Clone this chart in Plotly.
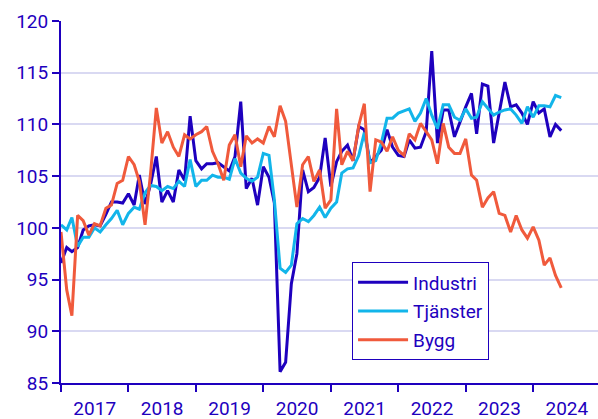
import plotly.graph_objects as go
import pandas as pd

months = pd.date_range("2017-01-01", periods=90, freq="MS")

industri = [96.6, 98.1, 97.7, 98.1, 99.8, 100.2, 100.3, 100.2, 101.3, 102.5, 102.5, 102.4,
            103.3, 102.2, 105.1, 102.3, 104.2, 106.9, 102.5, 103.6, 102.5, 105.6, 104.6, 110.8,
            106.5, 105.7, 106.2, 106.2, 106.3, 105.9, 105.5, 106.9, 112.2, 103.8, 104.8, 102.2,
            105.9, 104.9, 102.4, 86.1, 87.0, 94.6, 97.5, 105.6, 103.5, 103.9, 104.9, 108.7,
            104.0, 106.4, 107.4, 108.0, 106.5, 109.8, 109.5, 106.3, 106.9, 107.5, 109.5, 107.8,
            107.0, 106.9, 108.5, 107.7, 107.8, 109.3, 117.1, 108.2, 111.4, 111.4, 108.8, 110.3,
            111.7, 113.0, 109.1, 113.9, 113.7, 108.2, 111.1, 114.1, 111.7, 111.9, 111.1, 110.0,
            112.2, 111.1, 111.5, 108.8, 110.0, 109.4]

tjanster = [100.3, 99.8, 101.0, 98.2, 99.1, 99.1, 100.0, 99.6, 100.3, 100.9, 101.7, 100.3,
            101.4, 102.0, 101.8, 103.4, 104.1, 104.0, 103.6, 104.0, 103.8, 104.5, 104.0, 106.6,
            104.0, 104.6, 104.6, 105.1, 104.9, 104.9, 104.7, 106.7, 105.3, 104.8, 104.5, 104.9,
            107.2, 107.0, 102.7, 96.1, 95.7, 96.4, 100.4, 100.9, 100.6, 101.2, 102.0, 101.0,
            101.9, 102.5, 105.3, 105.7, 105.8, 107.0, 109.2, 106.3, 106.5, 108.2, 110.6, 110.6,
            111.1, 111.3, 111.5, 110.3, 111.1, 112.5, 110.9, 109.6, 111.9, 111.9, 110.7, 110.4,
            111.5, 110.6, 110.7, 112.2, 111.6, 110.9, 111.2, 111.4, 111.5, 110.9, 110.1, 111.7,
            110.7, 111.8, 111.8, 111.7, 112.8, 112.6]

bygg = [99.6, 94.0, 91.5, 101.2, 100.7, 99.3, 100.4, 100.2, 101.9, 102.2, 104.3, 104.6,
        106.9, 106.1, 104.5, 100.3, 105.3, 111.6, 108.2, 109.3, 107.8, 106.9, 109.0, 108.6,
        109.0, 109.3, 109.8, 107.4, 106.2, 104.6, 108.0, 109.0, 105.9, 108.9, 108.2, 108.6,
        108.2, 109.8, 108.8, 111.8, 110.3, 106.1, 102.0, 106.1, 106.9, 104.5, 105.6, 101.9,
        102.7, 111.5, 106.1, 107.4, 106.5, 109.9, 112.0, 103.5, 108.5, 108.3, 107.4, 108.8,
        107.5, 107.0, 109.1, 108.5, 110.1, 109.3, 108.5, 106.2, 110.1, 107.8, 107.2, 107.2,
        108.6, 105.1, 104.6, 102.0, 102.9, 103.5, 101.4, 101.2, 99.6, 101.2, 99.8, 99.0,
        100.1, 98.8, 96.4, 97.1, 95.4, 94.2]

series_names = ["Industri", "Tjänster", "Bygg"]
series_values = [industri, tjanster, bygg]
series_colors = ["#1e00be", "#12b5ea", "#f05a3c"]

axis_color = "#1e00be"
grid_color = "#d9d9f2"

fig = go.Figure()
for k, (name, vals, col) in enumerate(zip(series_names, series_values, series_colors)):
    fig.add_trace(go.Scatter(x=months, y=vals, mode="lines", name=name,
                             legendgroup=str(k),
                             line=dict(color=col, width=3)))

fig.update_layout(
    width=598, height=419,
    margin=dict(l=61, r=0, t=21, b=36),
    paper_bgcolor="white", plot_bgcolor="white",
    font=dict(family="Roboto", size=19, color=axis_color),
    showlegend=True,
    legend=dict(x=0.542, y=0.333, xanchor="left", yanchor="top",
                bordercolor=axis_color, borderwidth=1, bgcolor="white",
                font=dict(size=19, color=axis_color), tracegroupgap=1,
                itemwidth=50),
)
fig.update_xaxes(
    type="date", range=["2017-01-01", "2024-12-17"], automargin=False,
    tick0="2017-01-01", dtick="M12", tickformat="%Y", ticklabelmode="period",
    ticks="outside", ticklen=7, tickwidth=1.5, tickcolor=axis_color,
    showline=True, linecolor=axis_color, linewidth=2,
    showgrid=False, zeroline=False,
)
fig.update_yaxes(
    range=[85, 120], tick0=85, dtick=5, automargin=False,
    ticks="outside", ticklen=7, tickwidth=1.5, tickcolor=axis_color,
    showline=True, linecolor=axis_color, linewidth=2,
    showgrid=True, gridcolor=grid_color, gridwidth=1.5, zeroline=False,
)

fig.write_html("out.html", config={"displayModeBar": False},
               post_script="document.body.style.margin='0';")
